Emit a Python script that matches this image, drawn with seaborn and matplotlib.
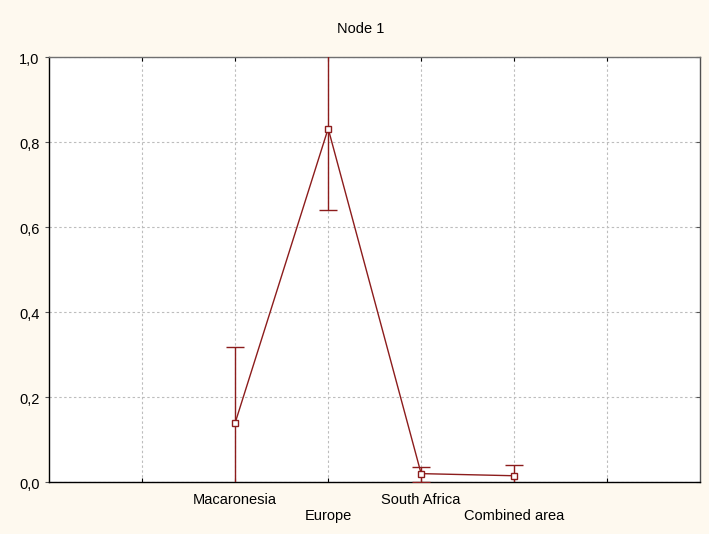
import matplotlib
matplotlib.use("Agg")
import matplotlib.pyplot as plt
import matplotlib.transforms as mtransforms
import numpy as np
import pandas as pd
import seaborn as sns

# Data
regions = ["Macaronesia", "Europe", "South Africa", "Combined area"]
means = [0.139, 0.831, 0.019, 0.014]
upper = [0.316, 1.02, 0.035, 0.039]
lower = [-0.03, 0.64, 0.0, -0.01]
yticks = [0.0, 0.2, 0.4, 0.6, 0.8, 1.0]
title = "Node 1"

line_color = "#8c1c1c"
bg_color = "#fef9ef"

sns.set_theme(style="white")
plt.rcParams["font.family"] = ["Liberation Sans", "DejaVu Sans"]

fig = plt.figure(figsize=(7.09, 5.34), dpi=100, facecolor=bg_color)
W, H = 709, 534
left, right, top, bottom = 49.3, 700.0, 56.7, 481.7
ax = fig.add_axes([left / W, 1 - bottom / H, (right - left) / W, (bottom - top) / H])
ax.set_facecolor("white")

# categories sit on positions 2..5 of a 0..7 axis
pos = np.arange(len(regions)) + 2
df = pd.DataFrame({"pos": pos, "mean": means, "region": regions})

err_lo = np.array(means) - np.array(lower)
err_hi = np.array(upper) - np.array(means)
ax.errorbar(pos, means, yerr=[err_lo, err_hi], fmt="none", ecolor=line_color,
            elinewidth=1.0, capsize=6.5, capthick=1.0, zorder=3)

sns.lineplot(data=df, x="pos", y="mean", sort=False, ax=ax, color=line_color,
             linewidth=1.0, marker="s", markersize=4.5, markerfacecolor="white",
             markeredgecolor=line_color, markeredgewidth=1.0, zorder=4)

ax.set_xlim(0, 7)
ax.set_ylim(0, 1.0)
ax.set_xlabel("")
ax.set_ylabel("")

# grid
ax.set_xticks(np.arange(1, 7))
ax.set_xticklabels([""] * 6)
ax.set_yticks(yticks)
ax.set_yticklabels([f"{v:.1f}".replace(".", ",") for v in yticks], fontsize=10.5)
ax.grid(True, color="#bdbdbd", linestyle=(0, (2.2, 2.2)), linewidth=0.8)
ax.set_axisbelow(True)

ax.tick_params(axis="y", which="major", left=True, right=True, direction="out",
               length=3, width=0.8, color="#555555", pad=4, labelcolor="black")
ax.tick_params(axis="x", which="major", bottom=True, top=True, direction="in",
               length=3, width=0.8, color="black")
for t in ax.yaxis.get_major_ticks():
    t.tick2line.set_marker(matplotlib.lines.TICKLEFT)
    t.tick2line.set_markersize(3)

# y labels sit a touch below their gridlines
shift = mtransforms.ScaledTranslation(0, -2 / 100, fig.dpi_scale_trans)
for lab in ax.get_yticklabels():
    lab.set_transform(lab.get_transform() + shift)

for name, sp in ax.spines.items():
    sp.set_visible(True)
    sp.set_linewidth(1.0)
ax.spines["left"].set_color("black")
ax.spines["bottom"].set_color("black")
ax.spines["top"].set_color("#707070")
ax.spines["right"].set_color("#505050")

# staggered category labels
for i, (p, name) in enumerate(zip(pos, regions)):
    dy = -22.3 if i % 2 == 0 else -38.0
    tr = ax.get_xaxis_transform() + mtransforms.ScaledTranslation(0, dy / 100, fig.dpi_scale_trans)
    ax.text(p, 0, name, transform=tr, ha="center", va="baseline", fontsize=10.5, color="black")

fig.text(361 / W, 1 - 32.7 / H, title, ha="center", va="baseline", fontsize=10.5, color="black")

fig.savefig("out.png", dpi=100, facecolor=bg_color)
